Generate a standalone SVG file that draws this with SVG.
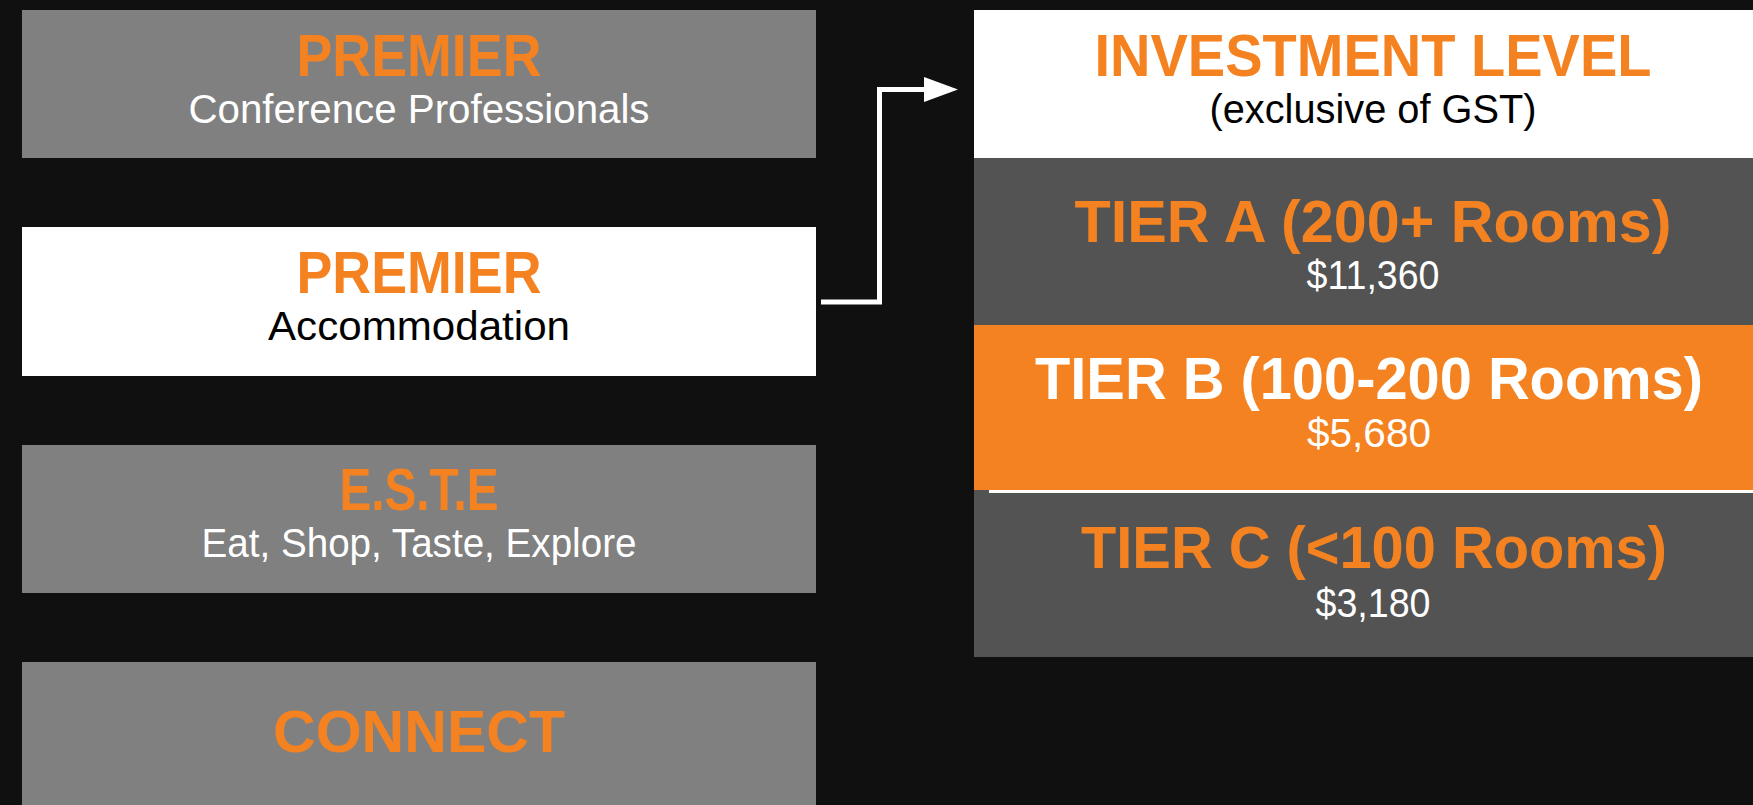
<svg xmlns="http://www.w3.org/2000/svg" width="1753" height="805" viewBox="0 0 1753 805">
<style>
.h{font-family:"Liberation Sans",Arial,sans-serif;font-weight:bold;font-size:59px;text-anchor:middle}
.s{font-family:"Liberation Sans",Arial,sans-serif;font-size:40px;text-anchor:middle}
.or{fill:#F58220}
.wh{fill:#FFFFFF}
.bk{fill:#000000}
.grey{fill:#808080}
.dark{fill:#535353}
</style>
<defs>
<marker id="arr" markerWidth="8" markerHeight="6" refX="0" refY="3" orient="auto" markerUnits="userSpaceOnUse">
<path d="M0,0 L8,3 L0,6 Z" fill="#FFFFFF"/>
</marker>
</defs>
<rect x="0" y="0" width="1753" height="805" fill="#101010"/>
<g id="node-premier-conf">
<rect class="grey" x="22" y="10" width="794" height="148"/>
<text class="h or" x="419" y="76" textLength="245" lengthAdjust="spacingAndGlyphs">PREMIER</text>
<text class="s wh" x="419" y="123" textLength="461" lengthAdjust="spacingAndGlyphs">Conference Professionals</text>
</g>
<g id="node-premier-accom">
<rect x="22" y="227" width="794" height="149" fill="#FFFFFF"/>
<text class="h or" x="419" y="293" textLength="245" lengthAdjust="spacingAndGlyphs">PREMIER</text>
<text class="s bk" x="419" y="340" textLength="302" lengthAdjust="spacingAndGlyphs">Accommodation</text>
</g>
<g id="node-este">
<rect class="grey" x="22" y="445" width="794" height="148"/>
<text class="h or" x="419" y="510" textLength="159" lengthAdjust="spacingAndGlyphs">E.S.T.E</text>
<text class="s wh" x="419" y="557" textLength="435" lengthAdjust="spacingAndGlyphs">Eat, Shop, Taste, Explore</text>
</g>
<g id="node-connect">
<rect class="grey" x="22" y="662" width="794" height="143"/>
<text class="h or" x="419" y="752" textLength="292" lengthAdjust="spacingAndGlyphs">CONNECT</text>
</g>
<g id="node-investment">
<rect x="974" y="10" width="779" height="148" fill="#FFFFFF"/>
<text class="h or" x="1373" y="76" textLength="557" lengthAdjust="spacingAndGlyphs">INVESTMENT LEVEL</text>
<text class="s bk" x="1373" y="123" textLength="327" lengthAdjust="spacingAndGlyphs">(exclusive of GST)</text>
</g>
<g id="node-tier-a">
<rect class="dark" x="974" y="158" width="779" height="167"/>
<text class="h or" x="1373" y="242" textLength="597" lengthAdjust="spacingAndGlyphs">TIER A (200+ Rooms)</text>
<text class="s wh" x="1373" y="289" textLength="133" lengthAdjust="spacingAndGlyphs">$11,360</text>
</g>
<g id="node-tier-b">
<rect class="or" x="974" y="325" width="779" height="165"/>
<text class="h wh" x="1369" y="399" textLength="668" lengthAdjust="spacingAndGlyphs">TIER B (100-200 Rooms)</text>
<text class="s wh" x="1369" y="447" textLength="124" lengthAdjust="spacingAndGlyphs">$5,680</text>
</g>
<g id="node-tier-c">
<rect class="dark" x="974" y="490" width="779" height="167"/>
<rect x="989" y="490" width="764" height="3" fill="#FFFFFF"/>
<text class="h or" x="1374" y="568" textLength="586" lengthAdjust="spacingAndGlyphs">TIER C (&lt;100 Rooms)</text>
<text class="s wh" x="1373" y="617" textLength="115" lengthAdjust="spacingAndGlyphs">$3,180</text>
</g>
<g id="connectors">
<polyline points="821,302 879.5,302 879.5,89.5 924,89.5" fill="none" stroke="#FFFFFF" stroke-width="5"/>
<path d="M924,77 L958,89.5 L924,102 Z" fill="#FFFFFF"/>
</g>
</svg>
